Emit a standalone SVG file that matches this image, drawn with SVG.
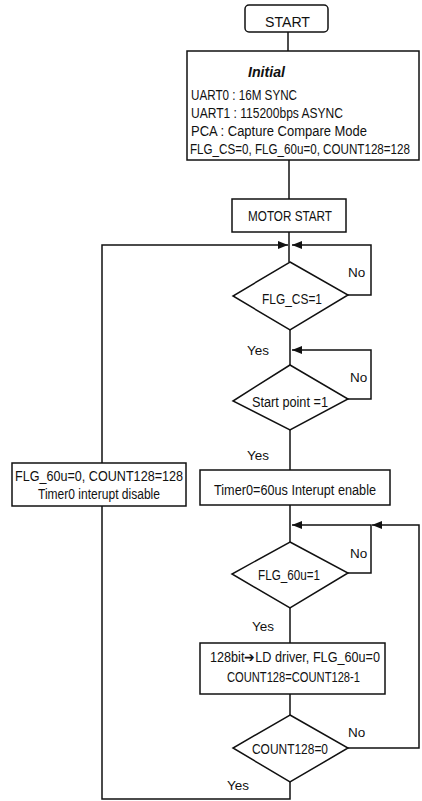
<svg xmlns="http://www.w3.org/2000/svg" width="422" height="801" viewBox="0 0 422 801">
<style>
.b{fill:#fff;stroke:#111;stroke-width:1.5}
.c{fill:none;stroke:#111;stroke-width:1.5}
text{font-family:"Liberation Sans",Arial,sans-serif;font-size:14px;fill:#111}
.l{font-size:13.5px}
</style>
<defs>
<marker id="ah" viewBox="0 0 10 8" refX="10" refY="4" markerWidth="10" markerHeight="8" markerUnits="userSpaceOnUse" orient="auto">
<path d="M0,0 L10,4 L0,8 Z" fill="#111"/>
</marker>
</defs>
<rect width="422" height="801" fill="#fff"/>
<g id="connectors">
<path class="c" d="M288,32 V51"/>
<path class="c" d="M289,160 V199"/>
<path class="c" d="M289,232 V262"/>
<path class="c" d="M290,330 V365"/>
<path class="c" d="M290,430 V470"/>
<path class="c" d="M290,505 V542"/>
<path class="c" d="M290,608 V643"/>
<path class="c" d="M290,694 V715"/>
<path class="c" d="M290,782 V799 H102 V506"/>
<path class="c" d="M102,463 V245 H288" marker-end="url(#ah)"/>
<path class="c" d="M348,295 H371 V245 H292" marker-end="url(#ah)"/>
<path class="c" d="M348,399 H371 V350 H292" marker-end="url(#ah)"/>
<path class="c" d="M348,573 H371 V525 H292" marker-end="url(#ah)"/>
<path class="c" d="M348,748 H419 V525 H372" marker-end="url(#ah)"/>
</g>
<g id="start">
<rect class="b" x="245" y="5" width="83" height="27" rx="4"/>
<text x="265" y="27" textLength="45" lengthAdjust="spacingAndGlyphs">START</text>
</g>
<g id="initial">
<rect class="b" x="187" y="51" width="232" height="109"/>
<text x="248" y="77" font-weight="bold" font-style="italic" textLength="37" lengthAdjust="spacingAndGlyphs">Initial</text>
<text x="191" y="100" textLength="106" lengthAdjust="spacingAndGlyphs">UART0 : 16M SYNC</text>
<text x="191" y="118" textLength="152" lengthAdjust="spacingAndGlyphs">UART1 : 115200bps ASYNC</text>
<text x="191" y="136" textLength="176" lengthAdjust="spacingAndGlyphs">PCA : Capture Compare Mode</text>
<text x="190" y="154" font-size="11.6" textLength="220" lengthAdjust="spacingAndGlyphs">FLG_CS=0, FLG_60u=0, COUNT128=128</text>
</g>
<g id="motor-start">
<rect class="b" x="232" y="199" width="114" height="33"/>
<text x="248" y="221" textLength="84" lengthAdjust="spacingAndGlyphs">MOTOR START</text>
</g>
<g id="flg-cs">
<polygon class="b" points="290,262 348,295 290,330 233,296"/>
<text x="262" y="304" textLength="60" lengthAdjust="spacingAndGlyphs">FLG_CS=1</text>
<text class="l" x="348" y="277">No</text>
<text class="l" x="247" y="355">Yes</text>
</g>
<g id="start-point">
<polygon class="b" points="290,365 348,399 290,430 233,401"/>
<text x="252" y="407" textLength="76" lengthAdjust="spacingAndGlyphs">Start point =1</text>
<text class="l" x="350" y="382">No</text>
<text class="l" x="247" y="460">Yes</text>
</g>
<g id="timer-enable">
<rect class="b" x="200" y="470" width="190" height="35"/>
<text x="214" y="495" textLength="162" lengthAdjust="spacingAndGlyphs">Timer0=60us Interupt enable</text>
</g>
<g id="reset-box">
<rect class="b" x="12" y="463" width="174" height="43"/>
<text x="15" y="481" textLength="168" lengthAdjust="spacingAndGlyphs">FLG_60u=0, COUNT128=128</text>
<text x="38" y="499" textLength="122" lengthAdjust="spacingAndGlyphs">Timer0 interupt disable</text>
</g>
<g id="flg-60u">
<polygon class="b" points="290,542 348,573 290,608 232,574"/>
<text x="258" y="580" textLength="62" lengthAdjust="spacingAndGlyphs">FLG_60u=1</text>
<text class="l" x="350" y="558">No</text>
<text class="l" x="252" y="631">Yes</text>
</g>
<g id="ld-driver">
<rect class="b" x="200" y="643" width="185" height="51"/>
<text x="210" y="662" textLength="170" lengthAdjust="spacingAndGlyphs">128bit➔LD driver, FLG_60u=0</text>
<text x="227" y="682" textLength="133" lengthAdjust="spacingAndGlyphs">COUNT128=COUNT128-1</text>
</g>
<g id="count128">
<polygon class="b" points="290,715 348,748 290,782 233,748"/>
<text x="252" y="754" textLength="76" lengthAdjust="spacingAndGlyphs">COUNT128=0</text>
<text class="l" x="348" y="737">No</text>
<text class="l" x="227" y="790">Yes</text>
</g>
</svg>
